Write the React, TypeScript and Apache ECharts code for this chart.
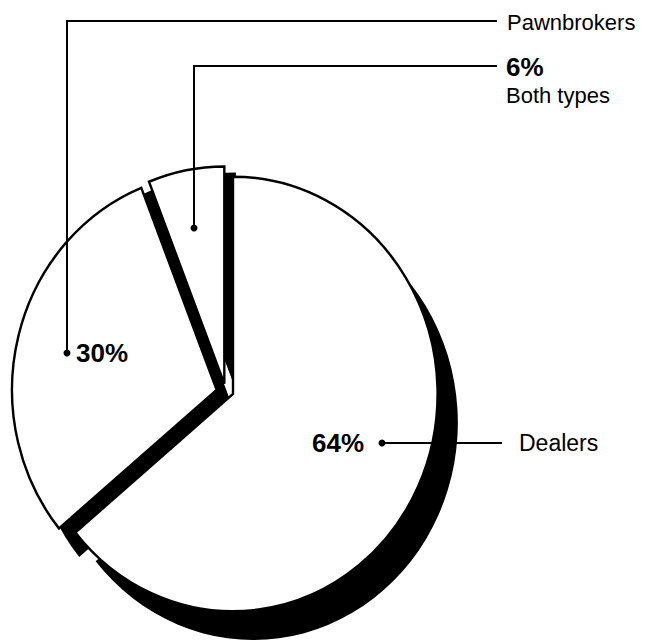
import React, { useEffect, useRef } from "react";
import * as echarts from "echarts";

// ---- data ----
const categories = ["Dealers", "Pawnbrokers", "Both types"];
const shares = [64, 30, 6];

// ---- layout (not data) ----
const CX = 233;
const CY = 394;
const R = 212;
// the printed pie is slightly taller than wide
const SX = 0.965;
const SY = 1.025;
// explode offset of each slice from the pie centre
const sliceOffsets = [
  [0, 0],
  [-17, -4],
  [-9, -10],
];
const SHADOW = [21, 28];
const WALL = [12, 6];
const FONT = '"Liberation Sans", Arial, Helvetica, sans-serif';

function sliceSeries(
  idx: number,
  dx: number,
  dy: number,
  color: string,
  radius: number,
  borderWidth: number,
  z: number
) {
  return {
    type: "pie",
    z,
    radius,
    center: [CX + sliceOffsets[idx][0] + dx, CY + sliceOffsets[idx][1] + dy],
    startAngle: 90,
    clockwise: true,
    silent: true,
    avoidLabelOverlap: false,
    label: { show: false },
    labelLine: { show: false },
    emphasis: { disabled: true },
    data: categories.map((name, i) => ({
      name,
      value: shares[i],
      itemStyle:
        i === idx
          ? { color, borderColor: "#000", borderWidth, borderJoin: "miter" }
          : { color: "rgba(0,0,0,0)", borderWidth: 0, borderColor: "rgba(0,0,0,0)" },
    })),
  };
}

export default function App() {
  const pieRef = useRef<HTMLDivElement>(null);
  const labelRef = useRef<HTMLDivElement>(null);

  useEffect(() => {
    if (!pieRef.current || !labelRef.current) return;
    document.body.style.margin = "0";
    const pie = echarts.init(pieRef.current, undefined, { renderer: "svg" });
    const labels = echarts.init(labelRef.current, undefined, { renderer: "svg" });

    const series: any[] = [];
    // shadow (depth)
    categories.forEach((_, i) => series.push(sliceSeries(i, SHADOW[0], SHADOW[1], "#000", R, 0, 1)));
    // side walls visible through the gaps
    series.push(sliceSeries(1, WALL[0], WALL[1], "#000", R + 4, 0, 2));
    series.push(sliceSeries(2, WALL[0], WALL[1], "#000", R, 0, 2));
    // faces
    categories.forEach((_, i) => series.push(sliceSeries(i, 0, 0, "#fff", R, 2.5, 3)));

    const txt = (text: string, x: number, y: number, size: number, bold = false) => ({
      type: "text",
      z: 100,
      x,
      y,
      style: {
        text,
        fill: "#000",
        font: `${bold ? "bold " : ""}${size}px ${FONT}`,
        textAlign: "left",
        textVerticalAlign: "middle",
        align: "left",
        verticalAlign: "middle",
      },
    });
    const line = (points: number[][]) => ({
      type: "polyline",
      z: 100,
      shape: { points },
      style: { stroke: "#000", lineWidth: 2, fill: null },
    });
    const dot = (x: number, y: number) => ({
      type: "circle",
      z: 100,
      shape: { cx: x, cy: y, r: 3.5 },
      style: { fill: "#000" },
    });

    const graphic = [
      // Pawnbrokers
      line([[67, 352], [67, 21], [497, 21]]),
      dot(67, 353),
      txt(`${shares[1]}%`, 76, 353, 26, true),
      txt(categories[1], 507, 22, 22),
      // Both types
      line([[194, 228], [194, 66], [497, 66]]),
      dot(194, 228),
      txt(`${shares[2]}%`, 506, 67, 26, true),
      txt(categories[2], 506, 95, 22),
      // Dealers
      line([[382, 443], [502, 443]]),
      dot(382, 443),
      txt(`${shares[0]}%`, 312, 443, 26, true),
      txt(categories[0], 519, 443, 23),
    ];

    pie.setOption({
      animation: false,
      tooltip: { show: false },
      series,
    });
    labels.setOption({
      animation: false,
      tooltip: { show: false },
      graphic,
    });

    return () => {
      pie.dispose();
      labels.dispose();
    };
  }, []);

  return (
    <div
      style={{
        position: "fixed",
        left: 0,
        top: 0,
        width: 657,
        height: 644,
        background: "#fff",
        overflow: "hidden",
      }}
    >
      <div
        ref={pieRef}
        style={{
          position: "absolute",
          left: 0,
          top: 0,
          width: 657,
          height: 644,
          transform: `scale(${SX}, ${SY})`,
          transformOrigin: `${CX}px ${CY}px`,
        }}
      />
      <div
        ref={labelRef}
        style={{ position: "absolute", left: 0, top: 0, width: 657, height: 644 }}
      />
    </div>
  );
}
